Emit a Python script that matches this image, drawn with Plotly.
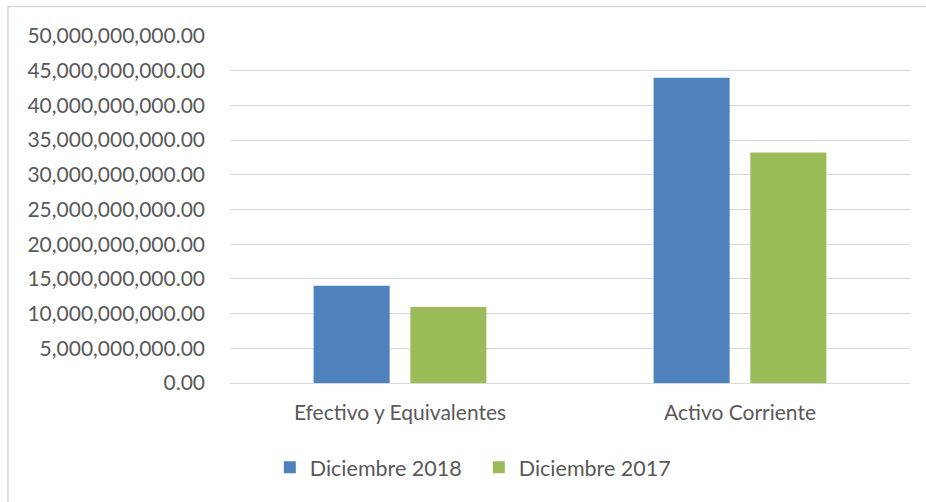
import plotly.graph_objects as go

categories = ["Efectivo y Equivalentes", "Activo Corriente"]
series_names = ["Diciembre 2018", "Diciembre 2017"]
values_2018 = [14.0e9, 44.0e9]
values_2017 = [10.95e9, 33.2e9]
colors = ["#4F81BD", "#9BBB59"]

FONT = "Lato"
TXT = "#595959"

fig = go.Figure()
for name, vals, col in zip(series_names, [values_2018, values_2017], colors):
    fig.add_trace(go.Bar(x=categories, y=vals, name=name,
                         marker=dict(color=col, line=dict(width=0))))

fig.update_layout(
    width=926, height=502,
    margin=dict(l=230, r=16, t=36, b=119),
    paper_bgcolor="white", plot_bgcolor="white",
    barmode="group", bargap=0.431, bargroupgap=0.214,
    font=dict(family=FONT, size=21, color=TXT),
    showlegend=True,
    legend=dict(orientation="h", x=0.3659, xanchor="center", y=-0.243, yanchor="middle",
                entrywidth=164, entrywidthmode="pixels",
                font=dict(family=FONT, size=21.5, color=TXT), itemclick=False,
                bgcolor="rgba(0,0,0,0)"),
    xaxis=dict(showgrid=False, showline=True, linecolor="#d9d9d9", linewidth=1,
               ticks="", tickfont=dict(family=FONT, size=21, color=TXT),
               ticklabelstandoff=11),
    yaxis=dict(range=[0, 50e9], dtick=5e9, tickformat=",.2f",
               showgrid=True, gridcolor="#d9d9d9", gridwidth=1,
               zeroline=False, showline=False, ticks="",
               tickfont=dict(family=FONT, size=21, color=TXT),
               ticklabelstandoff=24),
    shapes=[dict(type="rect", xref="paper", yref="paper",
                 x0=-0.3265, x1=1.08, y0=-0.5, y1=1.0851,
                 line=dict(color="#d9d9d9", width=1.5), fillcolor="rgba(0,0,0,0)",
                 layer="below")],
)

fig.write_html("out.html", config={"displayModeBar": False},
               post_script="document.body.style.margin='0';")
